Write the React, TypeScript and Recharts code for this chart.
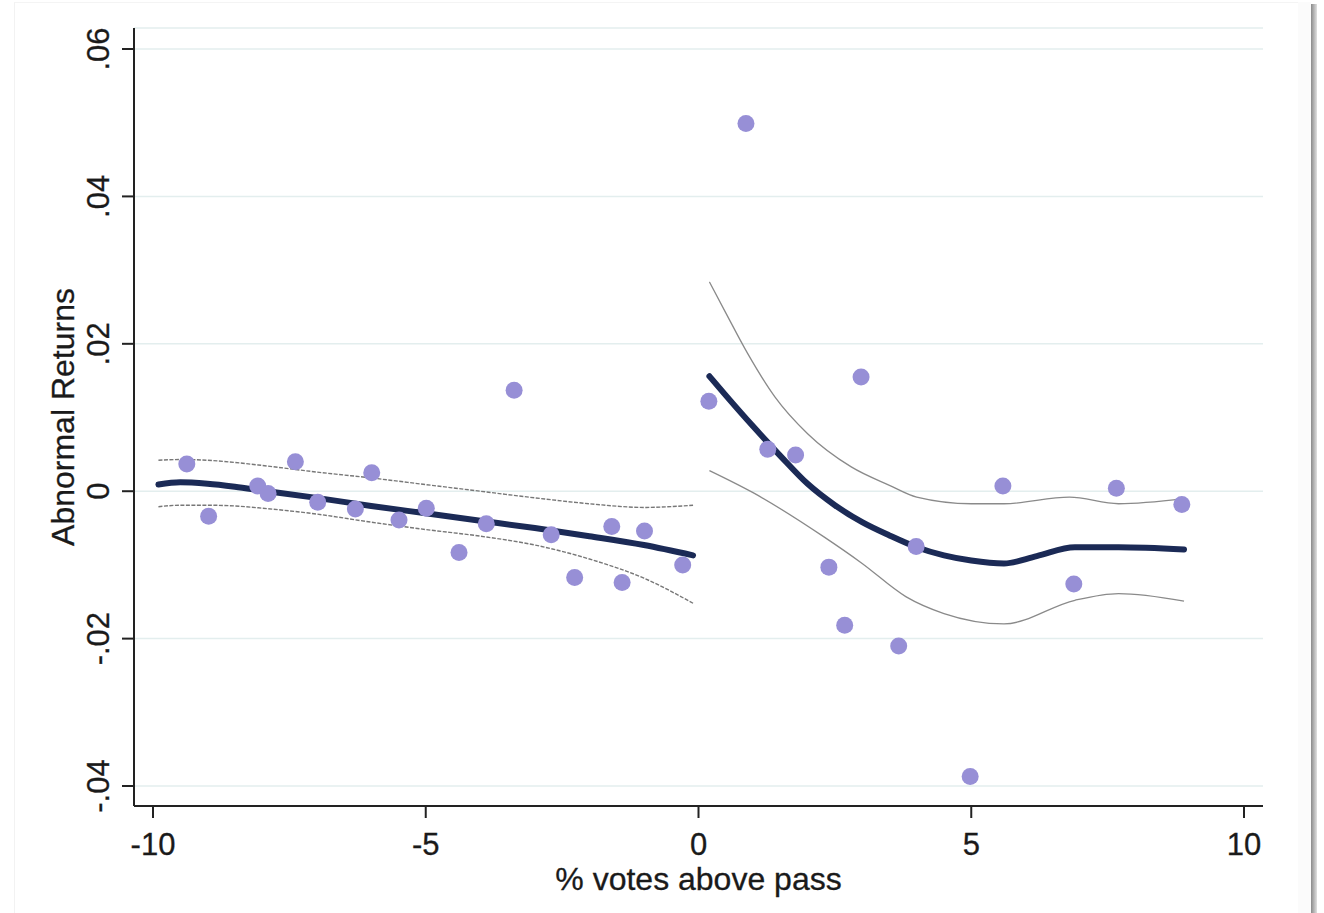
import React from 'react';
import { ComposedChart, Line, Scatter, XAxis, YAxis, CartesianGrid } from 'recharts';

// Binned scatter points
const binX = [-9.38, -8.98, -8.08, -7.89, -7.39, -6.98, -6.29, -5.99, -5.49, -4.99, -4.39, -3.89, -3.38, -2.70, -2.27, -1.59, -1.40, -0.99, -0.29,
  0.19, 0.87, 1.27, 1.78, 2.39, 2.68, 2.98, 3.67, 3.99, 4.98, 5.58, 6.88, 7.66, 8.86];
const binY = [0.0037, -0.0034, 0.0007, -0.0003, 0.0040, -0.0015, -0.0024, 0.0025, -0.0039, -0.0023, -0.0083, -0.0044, 0.0137, -0.0059, -0.0117, -0.0048, -0.0124, -0.0054, -0.0100,
  0.0122, 0.0499, 0.0057, 0.0049, -0.0103, -0.0182, 0.0155, -0.0210, -0.0075, -0.0387, 0.0007, -0.0126, 0.0004, -0.0018];

// Left fit
const leftX = [-9.9, -9.5, -9.0, -8.5, -8.0, -7.0, -6.0, -5.0, -4.0, -3.0, -2.0, -1.0, -0.1];
const leftFit = [0.0009, 0.0012, 0.0010, 0.0006, 0.0001, -0.0009, -0.0020, -0.0030, -0.0040, -0.0050, -0.0061, -0.0073, -0.0087];
const leftUpper = [0.0042, 0.0043, 0.0042, 0.0039, 0.0035, 0.0026, 0.0018, 0.0009, 0.0000, -0.0009, -0.0017, -0.0022, -0.0019];
const leftLower = [-0.0021, -0.0019, -0.0019, -0.0020, -0.0023, -0.0031, -0.0042, -0.0052, -0.0061, -0.0073, -0.0092, -0.0118, -0.0152];

// Right fit
const rightFitX = [0.2, 0.5, 1.0, 1.5, 2.0, 2.5, 3.0, 3.5, 4.0, 4.5, 5.0, 5.6, 6.2, 6.9, 7.7, 8.9];
const rightFit = [0.0156, 0.0130, 0.0088, 0.0048, 0.0010, -0.0019, -0.0042, -0.0060, -0.0076, -0.0087, -0.0094, -0.0098, -0.0088, -0.0076, -0.0076, -0.0079];
const rightUpperX = [0.2, 0.5, 0.9, 1.4, 2.0, 2.8, 3.5, 4.0, 5.0, 5.6, 6.8, 7.7, 8.9];
const rightUpper = [0.0284, 0.0242, 0.0187, 0.0128, 0.0078, 0.0033, 0.0008, -0.0008, -0.0017, -0.0017, -0.0008, -0.0017, -0.0010];
const rightLowerX = [0.2, 1.0, 2.3, 3.0, 3.8, 4.5, 5.6, 6.9, 7.7, 8.9];
const rightLower = [0.0028, -0.0002, -0.0062, -0.0098, -0.0143, -0.0166, -0.0180, -0.0148, -0.0139, -0.0149];

const xTicks = [-10, -5, 0, 5, 10];
const yTicks = [-0.04, -0.02, 0, 0.02, 0.04, 0.06];

const zip = (xs: number[], ys: number[]) => xs.map((x, i) => ({ x, y: ys[i] }));

const scatterData = zip(binX, binY);
const leftFitData = zip(leftX, leftFit);
const leftUpperData = zip(leftX, leftUpper);
const leftLowerData = zip(leftX, leftLower);
const rightFitData = zip(rightFitX, rightFit);
const rightUpperData = zip(rightUpperX, rightUpper);
const rightLowerData = zip(rightLowerX, rightLower);

const FONT = '"Liberation Sans", Arial, Helvetica, sans-serif';
const FS = 31;

const fmtY = (v: number) => {
  if (Math.abs(v) < 1e-9) return '0';
  const s = Math.abs(v).toFixed(2).replace(/^0/, '');
  return (v < 0 ? '-' : '') + s;
};

const YTick = (props: any) => {
  const { y, payload } = props;
  const bx = 109;
  return (
    <text x={bx} y={y} transform={`rotate(-90, ${bx}, ${y})`} textAnchor="middle" fontFamily={FONT} fontSize={FS} fill="#1a1a1a" stroke="#1a1a1a" strokeWidth={0.3}>
      {fmtY(payload.value)}
    </text>
  );
};

const XTick = (props: any) => {
  const { x, payload } = props;
  return (
    <text x={x} y={855} textAnchor="middle" fontFamily={FONT} fontSize={FS} fill="#1a1a1a" stroke="#1a1a1a" strokeWidth={0.3}>
      {String(payload.value)}
    </text>
  );
};

const YLabel = (props: any) => {
  const vb = props.viewBox || { y: 28, height: 778 };
  const cy = vb.y + vb.height / 2;
  const bx = 74;
  return (
    <text x={bx} y={cy} transform={`rotate(-90, ${bx}, ${cy})`} textAnchor="middle" fontFamily={FONT} fontSize={FS + 1} fill="#1a1a1a" stroke="#1a1a1a" strokeWidth={0.3}>
      Abnormal Returns
    </text>
  );
};

const XLabel = (props: any) => {
  const vb = props.viewBox || { x: 134, width: 1129 };
  const cx = vb.x + vb.width / 2;
  return (
    <text x={cx} y={890} textAnchor="middle" fontFamily={FONT} fontSize={FS + 1} fill="#1a1a1a" stroke="#1a1a1a" strokeWidth={0.3}>
      % votes above pass
    </text>
  );
};

const Dot = (p: any) => <circle cx={p.cx} cy={p.cy} r={8.5} fill="#978fd6" />;

export default function App() {
  return (
    <div style={{ position: 'absolute', left: 0, top: 0, width: 1324, height: 913, background: '#fff', overflow: 'hidden' }}>
      <div style={{ position: 'absolute', left: 14, top: 2, width: 1283, height: 911, borderLeft: '1px solid #f2f2f2', borderTop: '1px solid #f4f4f4', borderRight: '1px solid #f0f2f2' }} />
      <div style={{ position: 'absolute', left: 1298, top: 2, width: 13, height: 911, background: '#fbfbfb' }} />
      <div style={{ position: 'absolute', left: 1311, top: 4, width: 6, height: 909, background: 'linear-gradient(to right, #8a8a8a, #e0e0e0)' }} />
      <div style={{ position: 'absolute', left: 0, top: 0 }}>
        <ComposedChart width={1324} height={913} margin={{ top: 28, right: 61, bottom: 0, left: 0 }}>
          <CartesianGrid horizontal vertical={false} stroke="#e3eeee" strokeWidth={1.5} />
          <XAxis
            type="number"
            dataKey="x"
            domain={[-10.348, 10.348]}
            ticks={xTicks}
            allowDataOverflow
            height={107}
            tickSize={12}
            axisLine={{ stroke: '#222', strokeWidth: 2 }}
            tickLine={{ stroke: '#222', strokeWidth: 2 }}
            tick={<XTick />}
            label={<XLabel />}
          />
          <YAxis
            type="number"
            dataKey="y"
            domain={[-0.04271, 0.06285]}
            ticks={yTicks}
            allowDataOverflow
            width={134}
            tickSize={12}
            axisLine={{ stroke: '#222', strokeWidth: 2 }}
            tickLine={{ stroke: '#222', strokeWidth: 2 }}
            tick={<YTick />}
            label={<YLabel />}
          />
          <Line data={leftUpperData} dataKey="y" type="monotone" stroke="#777" strokeWidth={1.4} strokeDasharray="4 1.5" dot={false} activeDot={false} isAnimationActive={false} />
          <Line data={leftLowerData} dataKey="y" type="monotone" stroke="#777" strokeWidth={1.4} strokeDasharray="4 1.5" dot={false} activeDot={false} isAnimationActive={false} />
          <Line data={rightUpperData} dataKey="y" type="monotone" stroke="#8a8a8a" strokeWidth={1.3} dot={false} activeDot={false} isAnimationActive={false} />
          <Line data={rightLowerData} dataKey="y" type="monotone" stroke="#8a8a8a" strokeWidth={1.3} dot={false} activeDot={false} isAnimationActive={false} />
          <Line data={leftFitData} dataKey="y" type="monotone" stroke="#1b2a56" strokeWidth={6} strokeLinecap="round" dot={false} activeDot={false} isAnimationActive={false} />
          <Line data={rightFitData} dataKey="y" type="monotone" stroke="#1b2a56" strokeWidth={6} strokeLinecap="round" dot={false} activeDot={false} isAnimationActive={false} />
          <Scatter data={scatterData} dataKey="y" shape={<Dot />} isAnimationActive={false} />
        </ComposedChart>
      </div>
    </div>
  );
}
